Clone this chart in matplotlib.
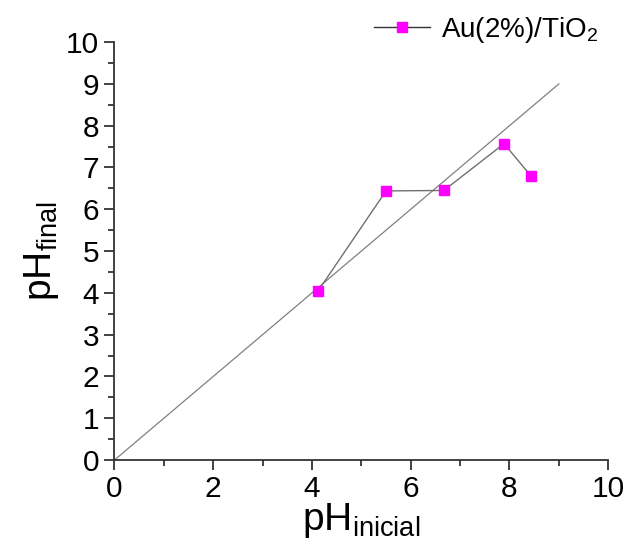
import matplotlib.pyplot as plt

plt.rcParams['font.family'] = ['Liberation Sans', 'DejaVu Sans']
plt.rcParams['mathtext.fontset'] = 'custom'
plt.rcParams['mathtext.rm'] = 'Liberation Sans'

ph_inicial = [4.12, 5.50, 6.67, 7.89, 8.44]
ph_final = [4.04, 6.44, 6.45, 7.57, 6.79]
diag = [0, 9]
serie = 'Au(2%)/TiO$_2$'

fig = plt.figure(figsize=(6.29, 5.47), dpi=100)
ax = fig.add_axes([0.182, 0.159, 0.785, 0.764])

ax.plot(diag, diag, color='#808080', lw=0.9)
ax.plot(ph_inicial, ph_final, color='#707070', lw=1.0, marker='s', ms=7,
        mfc='#ff00ff', mec='#ff00ff', label=serie)

ax.set_xlim(0, 10)
ax.set_ylim(0, 10)
ax.set_xticks([0, 2, 4, 6, 8, 10])
ax.set_xticks([1, 3, 5, 7, 9], minor=True)
ax.set_yticks(range(0, 11))
ax.set_yticks([i + 0.5 for i in range(10)], minor=True)

for s in ['top', 'right']:
    ax.spines[s].set_visible(False)
for s in ['left', 'bottom']:
    ax.spines[s].set_linewidth(1.3)
    ax.spines[s].set_color('#333333')

ax.tick_params(which='major', direction='out', length=7, width=1.3,
               color='#333333', labelsize=21.5, pad=4)
ax.tick_params(which='minor', direction='out', length=4, width=1.3,
               color='#333333')

ax.set_xlabel(r'pH$_{\mathregular{inicial}}$', fontsize=28, labelpad=-2)
ax.set_ylabel(r'pH$_{\mathregular{final}}$', fontsize=28, labelpad=4)

leg = ax.legend(loc='upper right', bbox_to_anchor=(1.03, 1.125), frameon=False,
                fontsize=20, handlelength=2.0, handletextpad=0.4)
leg.get_lines()[0].set_color('#333333')

fig.savefig('out.png', dpi=100)
